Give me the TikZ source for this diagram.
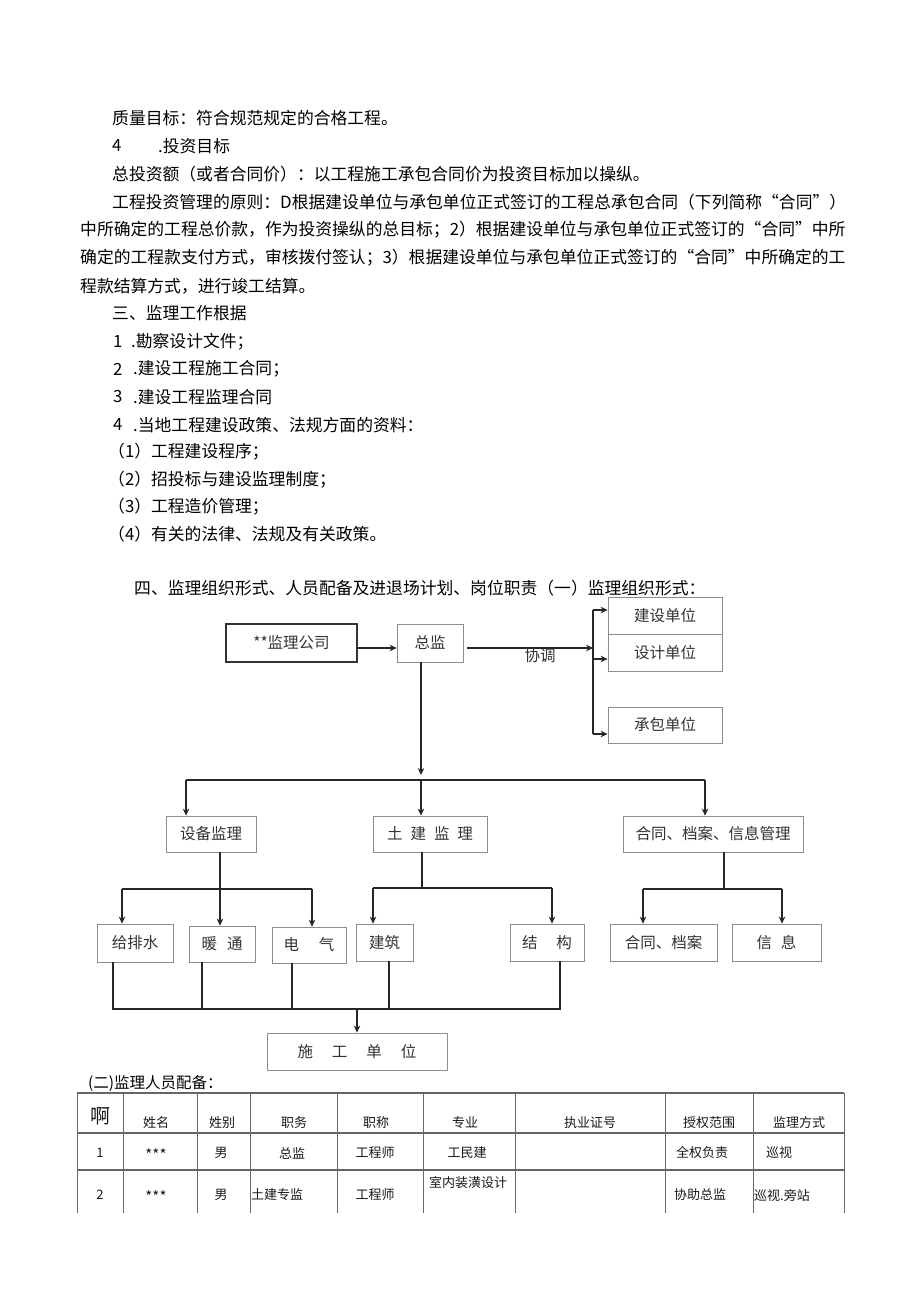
\documentclass[tikz,border=0pt]{standalone}
\usepackage{fontspec}
\setmainfont{Noto Sans CJK SC}
\usetikzlibrary{arrows.meta}
\XeTeXlinebreaklocale "zh"
\XeTeXlinebreakskip=0pt plus 3pt

\newcommand{\bodyfont}{\fontsize{16.8}{20}\selectfont}
\newcommand{\boxfont}{\fontsize{15.5}{18}\selectfont}
\newcommand{\tabfont}{\fontsize{13}{16}\selectfont}

\tikzset{
	txt/.style={anchor=west, inner sep=0pt, font=\bodyfont},
	box/.style={draw=black!45, line width=0.8pt, inner sep=0pt, font=\boxfont, text=black!80},
	link/.style={line width=1.4pt, black!85},
	arr/.style={link, -{Stealth[length=7pt,width=6.5pt]}},
	tline/.style={line width=0.9pt, black!60},
	cell/.style={inner sep=0pt, font=\tabfont, text=black!90}
}

\begin{document}
\begin{tikzpicture}[x=1pt, y=-1pt]
			%%%%% START %%%%%
			
			\fill[white] (0,0) rectangle (920,1301);
			\useasboundingbox (0,0) rectangle (920,1301);
			
			%% text above
			\node[txt] (l1) at (112,118) {质量目标：符合规范规定的合格工程。};
			\node[txt] (l2a) at (112,146) {4};
			\node[txt] (l2b) at (158,146) {.投资目标};
			\node[txt] (l3) at (112,174) {总投资额（或者合同价）：以工程施工承包合同价为投资目标加以操纵。};
			\node[txt] (l4) at (112,202) {\makebox[750pt][s]{工程投资管理的原则：D根据建设单位与承包单位正式签订的工程总承包合同（下列简称“合同”）}};
			\node[txt] (l5) at (80,230) {\makebox[767pt][s]{中所确定的工程总价款，作为投资操纵的总目标；2）根据建设单位与承包单位正式签订的“合同”中所}};
			\node[txt] (l6) at (80,258) {\makebox[767pt][s]{确定的工程款支付方式，审核拨付签认；3）根据建设单位与承包单位正式签订的“合同”中所确定的工}};
			\node[txt] (l7) at (80,286) {程款结算方式，进行竣工结算。};
			
			\node[txt] (m1) at (112,313) {三、监理工作根据};
			\node[txt] (m2a) at (113,342) {1};
			\node[txt] (m2b) at (131,342) {.勘察设计文件；};
			\node[txt] (m3a) at (113,369) {2};
			\node[txt] (m3b) at (133,369) {.建设工程施工合同；};
			\node[txt] (m4a) at (113,397) {3};
			\node[txt] (m4b) at (133,397) {.建设工程监理合同};
			\node[txt] (m5a) at (113,425) {4};
			\node[txt] (m5b) at (133,425) {.当地工程建设政策、法规方面的资料：};
			\node[txt] (m6) at (108,452) {（1）工程建设程序；};
			\node[txt] (m7) at (108,480) {（2）招投标与建设监理制度；};
			\node[txt] (m8) at (108,507) {（3）工程造价管理；};
			\node[txt] (m9) at (108,534) {（4）有关的法律、法规及有关政策。};
			
			\node[txt] (h4) at (134,588) {\makebox[578pt][s]{四、监理组织形式、人员配备及进退场计划、岗位职责（一）监理组织形式：}};
			
			%% org chart boxes
			\node[box, minimum width=131pt, minimum height=38pt, draw=black!80, line width=1.6pt] (gongsi) at (291.5,643) {**监理公司\hspace{26pt}};
			\node[box, minimum width=66pt, minimum height=38pt] (zongjian) at (430,643) {总监};
			\node[box, minimum width=114pt, minimum height=37pt] (jianshe) at (665,615.5) {建设单位\hspace{26pt}};
			\node[box, minimum width=114pt, minimum height=37pt] (sheji) at (665,652.5) {设计单位\hspace{26pt}};
			\node[box, minimum width=114pt, minimum height=36pt] (chengbao) at (665,725) {承包单位\hspace{26pt}};
			
			\node[box, minimum width=90pt, minimum height=36pt] (shebei) at (211,834) {设备监理};
			\node[box, minimum width=114pt, minimum height=36pt] (tujian) at (430,834) {土\hspace{8pt}建\hspace{8pt}监\hspace{8pt}理};
			\node[box, minimum width=180pt, minimum height=36pt] (hetong) at (713,834) {合同、档案、信息管理};
			
			\node[box, minimum width=76pt, minimum height=38pt] (jipaishui) at (135,943) {给排水};
			\node[box, minimum width=66pt, minimum height=36pt] (nuantong) at (222,944) {暖\hspace{10pt}通};
			\node[box, minimum width=74pt, minimum height=36pt] (dianqi) at (309,945) {电\hspace{20pt}气};
			\node[box, minimum width=57pt, minimum height=37pt] (jianzhu) at (384.5,942.5) {建筑};
			\node[box, minimum width=74pt, minimum height=37pt] (jiegou) at (547,942.5) {结\hspace{19pt}构};
			\node[box, minimum width=107pt, minimum height=37pt] (hedang) at (663.5,942.5) {合同、档案};
			\node[box, minimum width=89pt, minimum height=37pt] (xinxi) at (776.5,942.5) {信\hspace{9pt}息};
			
			\node[box, minimum width=180pt, minimum height=37pt] (shigong) at (357,1051.5) {施\hspace{19pt}工\hspace{19pt}单\hspace{19pt}位};
			
			%% bus points
			\coordinate (br1) at (593,610);
			\coordinate (br) at (593,648);
			\coordinate (br2) at (593,659);
			\coordinate (br3) at (593,734);
			\coordinate (bus) at (421,780);
			\coordinate (busl) at (186,780);
			\coordinate (busr) at (705,780);
			\coordinate (sbl) at (122,889);
			\coordinate (sbm) at (220,889);
			\coordinate (sbr) at (312,889);
			\coordinate (tjl) at (373,888);
			\coordinate (tjm) at (422,888);
			\coordinate (tjr) at (552,888);
			\coordinate (htl) at (643,889);
			\coordinate (htm) at (724,889);
			\coordinate (htr) at (782,889);
			\coordinate (sgl) at (113,1009);
			\coordinate (sgm) at (357,1009);
			\coordinate (sgr) at (560,1009);
			
			%% connectors
			\draw[arr] ([yshift=-5pt]gongsi.east) -- ([yshift=-5pt]gongsi.east -| zongjian.west);
			\draw[arr] ([xshift=4pt]zongjian.east |- br) -- (br);
			\node[inner sep=0pt, font=\boxfont, text=black!80] (xietiao) at (540,656) {协调};
			\draw[link, line width=1.2pt] (br1) -- (br3);
			\draw[arr, line width=1.2pt] (br1) -- (br1 -| jianshe.west);
			\draw[arr, line width=1.2pt] (br2) -- (br2 -| sheji.west);
			\draw[arr, line width=1.2pt] (br3) -- (br3 -| chengbao.west);
			
			\draw[arr] (zongjian.south -| bus) -- ([yshift=5pt]bus);
			\draw[link] (busl) -- (busr);
			\draw[arr] (busl) -- (busl |- shebei.north);
			\draw[arr] (bus) -- (bus |- tujian.north);
			\draw[arr] (busr) -- (busr |- hetong.north);
			
			\draw[arr] (shebei.south -| sbm) -- (sbm |- nuantong.north);
			\draw[link] (sbl) -- (sbr);
			\draw[arr] (sbl) -- (sbl |- jipaishui.north);
			\draw[arr] (sbr) -- (sbr |- dianqi.north);
			
			\draw[link] (tujian.south -| tjm) -- (tjm);
			\draw[link] (tjl) -- (tjr);
			\draw[arr] (tjl) -- (tjl |- jianzhu.north);
			\draw[arr] (tjr) -- (tjr |- jiegou.north);
			
			\draw[link] (hetong.south -| htm) -- (htm);
			\draw[link] (htl) -- (htr);
			\draw[arr] (htl) -- (htl |- hedang.north);
			\draw[arr] (htr) -- (htr |- xinxi.north);
			
			\draw[link, line width=1.1pt] (jipaishui.south -| sgl) -- (sgl) -- (sgr) -- (sgr |- jiegou.south);
			\draw[link, line width=1.1pt] ([xshift=-20pt]nuantong.south) -- ([xshift=-20pt]nuantong.south |- sgl);
			\draw[link, line width=1.1pt] ([xshift=-17pt]dianqi.south) -- ([xshift=-17pt]dianqi.south |- sgl);
			\draw[link, line width=1.1pt] ([xshift=4.5pt]jianzhu.south) -- ([xshift=4.5pt]jianzhu.south |- sgl);
			\draw[arr, line width=1.1pt] (sgm) -- (shigong.north);
			
			%% table
			\node[anchor=west, inner sep=0pt, font=\fontsize{15.5}{18}\selectfont] (tcap) at (88,1083) {(二)监理人员配备：};
			
			\draw[tline, line width=1.4pt] (77,1093) -- (844,1093);
			\draw[tline, line width=1.2pt] (77,1133) -- (844,1133);
			\draw[tline, line width=1.2pt] (77,1170) -- (844,1170);
			\draw[tline] (77,1093) -- (77,1213);
			\draw[tline] (123,1093) -- (123,1213);
			\draw[tline] (197,1093) -- (197,1213);
			\draw[tline] (250,1093) -- (250,1213);
			\draw[tline] (337,1093) -- (337,1213);
			\draw[tline] (423,1093) -- (423,1213);
			\draw[tline] (515,1093) -- (515,1213);
			\draw[tline] (665,1093) -- (665,1213);
			\draw[tline] (753,1093) -- (753,1213);
			\draw[tline] (844,1093) -- (844,1213);
			
			\node[cell, font=\fontsize{20}{22}\selectfont] (c00) at (100,1116) {啊};
			\node[cell] (c01) at (156,1123) {姓名};
			\node[cell] (c02) at (222,1123) {姓别};
			\node[cell] (c03) at (294,1123) {职务};
			\node[cell] (c04) at (376,1123) {职称};
			\node[cell] (c05) at (465,1123) {专业};
			\node[cell] (c06) at (590,1123) {执业证号};
			\node[cell] (c07) at (709,1123) {授权范围};
			\node[cell] (c08) at (799,1123) {监理方式};
			
			\node[cell] (c10) at (100,1153) {1};
			\node[cell, font=\fontsize{15}{16}\selectfont] (c11) at (156,1155) {***};
			\node[cell] (c12) at (221,1153) {男};
			\node[cell] (c13) at (292,1153) {总监};
			\node[cell] (c14) at (375,1153) {工程师};
			\node[cell] (c15) at (467,1153) {工民建};
			\node[cell] (c17) at (702,1153) {全权负责};
			\node[cell] (c18) at (779,1153) {巡视};
			
			\node[cell] (c20) at (100,1195) {2};
			\node[cell, font=\fontsize{15}{16}\selectfont] (c21) at (156,1197) {***};
			\node[cell] (c22) at (221,1195) {男};
			\node[cell, anchor=west] (c23) at (251,1195) {土建专监};
			\node[cell] (c24) at (375,1195) {工程师};
			\node[cell] (c25) at (468,1183) {室内装潢设计};
			\node[cell] (c27) at (700,1195) {协助总监};
			\node[cell, anchor=west] (c28) at (754,1195) {巡视.旁站};
			
			%%%%% END %%%%%
\end{tikzpicture}
\end{document}
